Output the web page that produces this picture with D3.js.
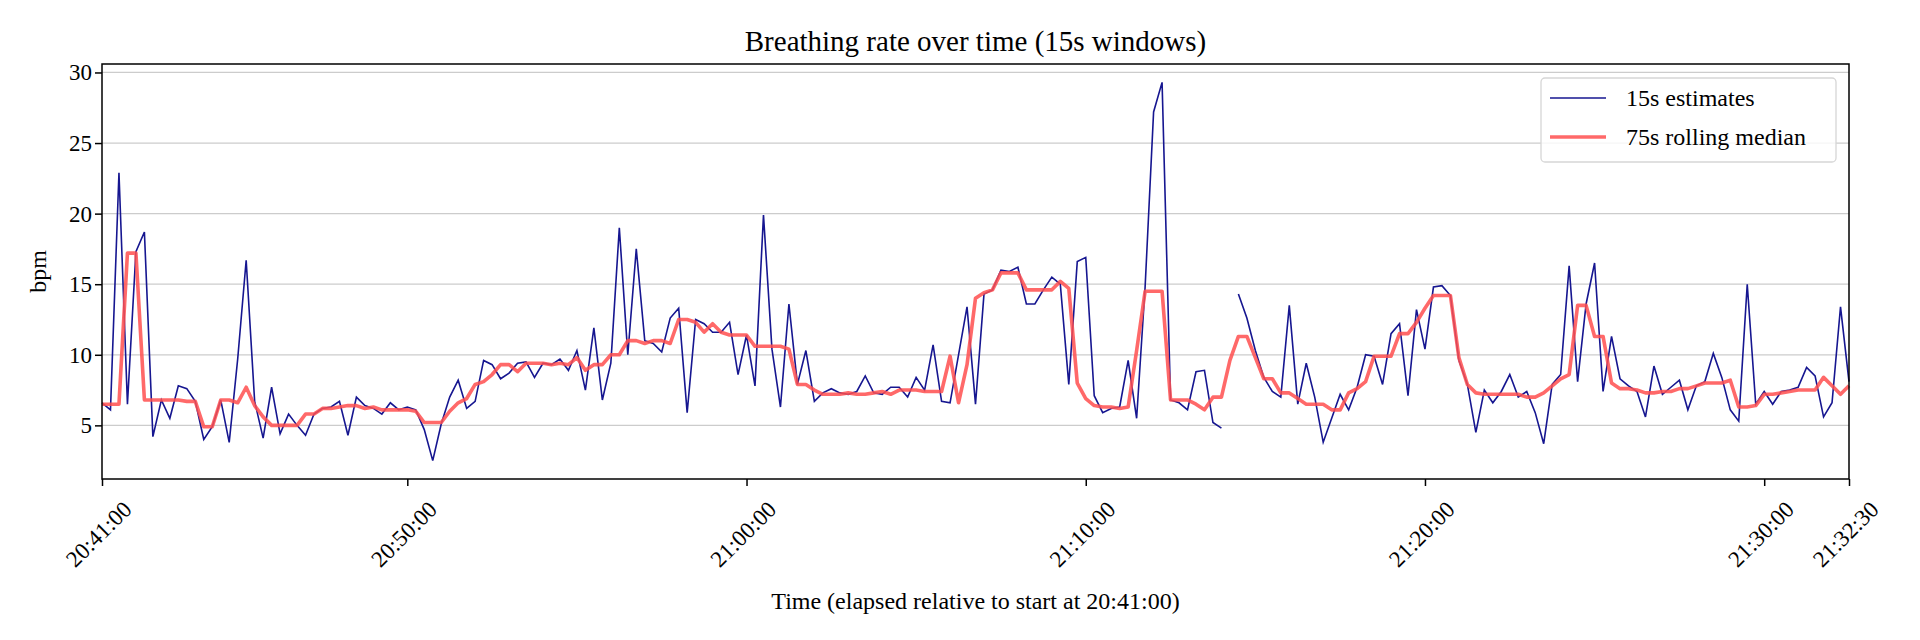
<!DOCTYPE html>
<html>
<head>
<meta charset="utf-8">
<script src="https://cdn.jsdelivr.net/npm/d3@7"></script>
<style>
  body { margin: 0; background: #fff; }
  text { font-family: "Liberation Serif", "DejaVu Serif", serif; fill: #000; }
</style>
</head>
<body>
<svg id="chart" width="1920" height="640"></svg>
<script>
// 15s windows, starting at 20:41:00 (index i -> 20:41:00 + 15*i seconds)
const estimates = [
  6.6,6.1,22.9,6.5,17.3,18.7,4.2,6.8,5.5,7.8,7.6,6.7,4.0,4.9,6.8,3.8,9.7,16.7,6.7,4.1,
  7.7,4.4,5.8,5.0,4.3,5.8,6.2,6.3,6.7,4.3,7.0,6.4,6.2,5.8,6.6,6.1,6.3,6.1,
  4.7,2.5,5.1,7.0,8.2,6.2,6.7,9.6,9.3,8.3,8.7,9.4,9.5,8.4,9.4,9.3,9.7,8.9,10.3,7.5,
  11.9,6.8,9.4,19.0,10.0,17.5,11.0,10.8,10.2,12.6,13.3,5.9,12.5,12.2,11.6,
  11.6,12.3,8.6,11.4,7.8,19.9,10.4,6.3,13.6,7.9,10.3,6.7,7.3,7.6,7.3,7.2,7.4,8.5,
  7.3,7.2,7.7,7.7,7.0,8.4,7.5,10.7,6.7,6.6,10.0,13.4,6.5,14.3,14.6,16.0,15.9,16.2,
  13.6,13.6,14.6,15.5,15.0,7.9,16.6,16.9,7.1,5.9,6.2,6.3,9.6,5.5,14.8,27.2,29.3,6.8,
  6.6,6.1,8.8,8.9,5.2,4.8,null,14.3,12.6,10.3,8.4,7.4,7.0,13.5,6.5,9.4,7.0,
  3.8,5.5,7.2,6.1,7.7,10.0,9.9,7.9,11.5,12.2,7.1,13.2,10.4,14.8,14.9,14.2,9.6,7.9,
  4.5,7.5,6.6,7.4,8.6,7.0,7.4,5.9,3.7,7.9,8.6,16.3,8.1,13.6,16.5,
  7.4,11.3,8.3,7.8,7.4,5.6,9.2,7.2,7.7,8.2,6.1,7.8,8.1,10.1,8.4,6.1,5.3,15.0,6.5,7.4,
  6.5,7.4,7.5,7.7,9.1,8.5,5.6,6.6,13.4,8.1
];
const rollingMedian = [
  6.5,6.5,6.5,17.2,17.2,6.8,6.8,6.8,6.8,6.8,6.7,6.7,4.9,4.9,6.8,6.8,6.6,7.7,6.4,5.6,
  5.0,5.0,5.0,5.0,5.8,5.8,6.2,6.2,6.3,6.4,6.4,6.2,6.3,6.1,6.1,6.1,6.1,6.0,
  5.2,5.2,5.2,6.0,6.6,6.9,7.9,8.1,8.6,9.3,9.3,8.8,9.4,9.4,9.4,9.3,9.4,9.3,9.8,8.9,
  9.3,9.3,10.0,10.0,11.0,11.0,10.8,11.0,11.0,10.8,12.5,12.5,12.3,11.6,12.2,
  11.6,11.4,11.4,11.4,10.6,10.6,10.6,10.6,10.4,7.9,7.9,7.5,7.2,7.2,7.2,7.3,7.2,7.2,
  7.3,7.4,7.2,7.5,7.5,7.5,7.4,7.4,7.4,9.9,6.6,9.3,14.0,14.4,14.6,15.8,15.8,15.8,
  14.6,14.6,14.6,14.6,15.2,14.7,8.0,6.9,6.4,6.3,6.3,6.2,6.3,10.3,14.5,14.5,14.5,6.8,
  6.8,6.8,6.5,6.1,7.0,7.0,9.6,11.3,11.3,9.8,8.3,8.3,7.3,7.3,6.9,6.5,6.5,
  6.5,6.1,6.1,7.3,7.6,8.1,9.9,9.9,9.9,11.5,11.5,12.3,13.3,14.2,14.2,14.2,9.8,7.9,
  7.3,7.2,7.2,7.2,7.2,7.2,7.0,7.0,7.3,7.8,8.3,8.6,13.5,13.5,11.3,
  11.3,8.0,7.6,7.6,7.5,7.3,7.3,7.4,7.4,7.6,7.6,7.8,8.0,8.0,8.0,8.2,6.3,6.3,6.4,7.2,
  7.2,7.3,7.4,7.5,7.5,7.5,8.4,7.8,7.2,7.8
];
const xTickSeconds = [0, 540, 1140, 1740, 2340, 2940, 3090];
const xTickLabels = ["20:41:00","20:50:00","21:00:00","21:10:00","21:20:00","21:30:00","21:32:30"];
const yTicks = [5, 10, 15, 20, 25, 30];
const stepSeconds = 15;

const svg = d3.select('#chart');
const m = { left: 102, right: 1849, top: 64, bottom: 479 };

const x = d3.scaleLinear().domain([0, 3090]).range([m.left, m.right]);
const y = d3.scaleLinear().domain([1.2, 30.6]).range([m.bottom, m.top]);

// grid
svg.append('g').selectAll('line').data(yTicks).enter().append('line')
  .attr('x1', m.left).attr('x2', m.right)
  .attr('y1', d => y(d)).attr('y2', d => y(d))
  .attr('stroke', '#cccccc').attr('stroke-width', 1.3);

const line = d3.line()
  .defined(d => d != null)
  .x((d, i) => x(i * stepSeconds))
  .y(d => y(d));

svg.append('path').datum(estimates)
  .attr('d', line).attr('fill', 'none')
  .attr('stroke', '#161690').attr('stroke-width', 1.6);
svg.append('path').datum(rollingMedian)
  .attr('d', line).attr('fill', 'none')
  .attr('stroke', '#ff4f4f').attr('stroke-opacity', 0.85)
  .attr('stroke-width', 3.6).attr('stroke-linejoin', 'round');

// axes
const xAxis = svg.append('g').attr('transform', `translate(0,${m.bottom})`)
  .call(d3.axisBottom(x).tickValues(xTickSeconds).tickFormat((d, i) => xTickLabels[i])
    .tickSize(7).tickSizeOuter(0));
xAxis.selectAll('text')
  .attr('font-size', 23)
  .attr('text-anchor', 'middle')
  .attr('dy', '0.35em').attr('y', 0)
  .attr('transform', 'translate(-4,55) rotate(-45)');

const yAxis = svg.append('g').attr('transform', `translate(${m.left},0)`)
  .call(d3.axisLeft(y).tickValues(yTicks).tickSize(7).tickSizeOuter(0));
yAxis.selectAll('text').attr('font-size', 23);

svg.selectAll('.domain').remove();
svg.append('rect')
  .attr('x', m.left).attr('y', m.top)
  .attr('width', m.right - m.left).attr('height', m.bottom - m.top)
  .attr('fill', 'none').attr('stroke', '#000').attr('stroke-width', 1.5);
svg.selectAll('.tick line').attr('stroke', '#000').attr('stroke-width', 1.5);

// titles
svg.append('text').attr('x', (m.left + m.right) / 2).attr('y', 51)
  .attr('text-anchor', 'middle').attr('font-size', 29)
  .text('Breathing rate over time (15s windows)');
svg.append('text').attr('x', (m.left + m.right) / 2).attr('y', 609)
  .attr('text-anchor', 'middle').attr('font-size', 24)
  .text('Time (elapsed relative to start at 20:41:00)');
svg.append('text').attr('transform', `translate(46,${(m.top + m.bottom) / 2}) rotate(-90)`)
  .attr('text-anchor', 'middle').attr('font-size', 24).text('bpm');

// legend
const lg = svg.append('g');
lg.append('rect').attr('x', 1541).attr('y', 78).attr('width', 295).attr('height', 84)
  .attr('rx', 4).attr('fill', '#fff').attr('fill-opacity', 0.8)
  .attr('stroke', '#d6d6d6').attr('stroke-width', 1.3);
const entries = [
  { label: '15s estimates', color: '#161690', w: 1.6, op: 1, yy: 98 },
  { label: '75s rolling median', color: '#ff4f4f', w: 3.6, op: 0.85, yy: 137 }
];
entries.forEach(e => {
  lg.append('line').attr('x1', 1550).attr('x2', 1606).attr('y1', e.yy).attr('y2', e.yy)
    .attr('stroke', e.color).attr('stroke-width', e.w).attr('stroke-opacity', e.op);
  lg.append('text').attr('x', 1626).attr('y', e.yy + 8).attr('font-size', 24).text(e.label);
});
</script>
</body>
</html>
